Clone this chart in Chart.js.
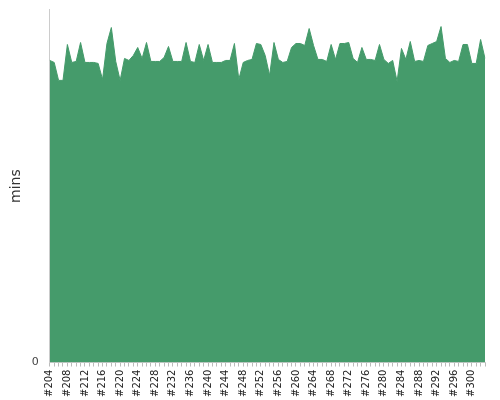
<!DOCTYPE html><html><head><script src="https://cdn.jsdelivr.net/npm/chart.js@4"></script>
<style>body{margin:0}#w{width:500px;height:400px}</style></head><body><div id="w"><canvas id="c"></canvas></div><script>
const firstBuild = 204;
const labels = [];
for (let i = 0; i < 100; i++) labels.push('#' + (firstBuild + i));
const mins = [303,301,283,283,319,301,302,321,301,301,301,300,284,320,336,302,283,305,303,308,316,305,321,302,302,302,306,317,302,302,302,321,302,301,319,303,319,301,301,301,303,303,320,284,301,303,304,320,319,308,288,321,304,301,302,316,320,320,318,335,318,304,304,302,319,304,320,320,321,305,301,316,304,304,303,319,304,300,303,282,315,304,322,302,303,302,318,320,322,337,305,301,303,302,319,319,300,300,324,305];
const yTicks = [0];
new Chart(document.getElementById('c'), {
  type: 'line',
  data: { labels: labels, datasets: [{ data: mins, fill: 'origin', backgroundColor: '#459b6b', borderColor: '#459b6b', borderWidth: 1, pointRadius: 0, tension: 0 }] },
  options: {
    responsive: true, maintainAspectRatio: false, animation: false,
    layout: { padding: { top: 4, right: 9, left: 4 } },
    plugins: { legend: { display: false }, tooltip: { enabled: false } },
    scales: {
      x: { offset: false,
        grid: { drawOnChartArea: false, tickLength: 4, color: '#bbb' },
        border: { color: '#ccc' },
        ticks: { autoSkip: false, maxRotation: 90, minRotation: 90, color: '#222', font: { family: 'DejaVu Sans', size: 10 },
          callback: function(v, i) { return i % 4 === 0 ? labels[i] : ''; } } },
      y: { min: 0, max: 354,
        afterBuildTicks: function(a) { a.ticks = yTicks.map(v => ({ value: v })); },
        grid: { display: false }, border: { color: '#ccc' },
        ticks: { color: '#444', font: { family: 'DejaVu Sans', size: 11 } },
        title: { display: true, text: 'mins', color: '#333', font: { family: 'DejaVu Sans', size: 14 } } }
    }
  }
});
</script></body></html>
